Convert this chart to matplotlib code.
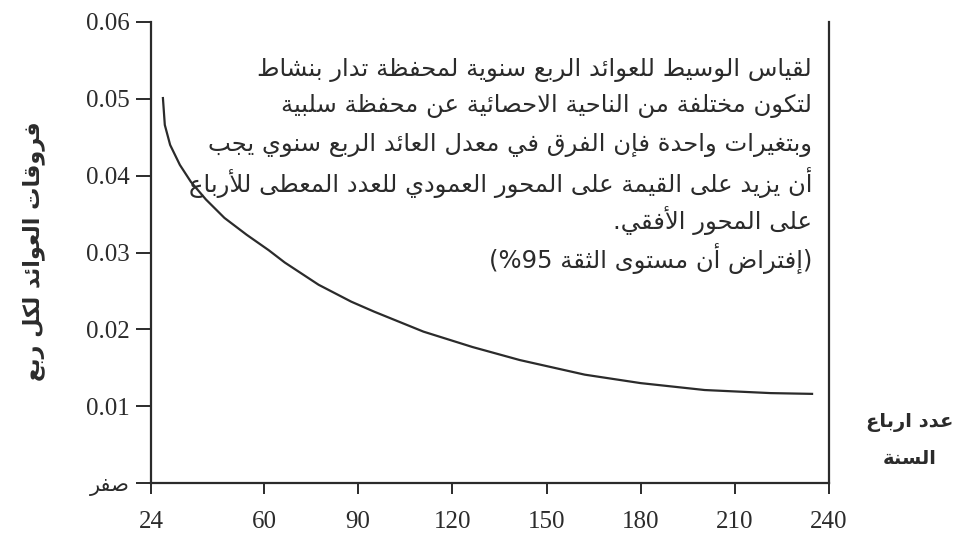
import re
import matplotlib
matplotlib.use("Agg")
import matplotlib.pyplot as plt

# ---------------------- Data ----------------------

quarters = [27.8, 28.4, 30.1, 33.2, 36.7, 41.5, 47.4, 54.5, 61.5, 66.6,
            77.4, 87.8, 95.1, 110.8, 126.4, 141.5, 162.2, 180.0, 200.4,
            221.4, 234.6]
diff_per_quarter = [0.0501, 0.0466, 0.0440, 0.0414, 0.0392, 0.0369, 0.0345,
                    0.0323, 0.0303, 0.0287, 0.0258, 0.0236, 0.0223, 0.0197,
                    0.0177, 0.0160, 0.0141, 0.0130, 0.0121, 0.0117, 0.0116]

x_ticks = [24, 60, 90, 120, 150, 180, 210, 240]
y_ticks = [0, 0.01, 0.02, 0.03, 0.04, 0.05, 0.06]
y_tick_labels = ["صفر", "0.01", "0.02", "0.03", "0.04", "0.05", "0.06"]

y_title = "فروقات العوائد لكل ربع"
x_title = ["عدد ارباع", "السنة"]
note_lines = [
    "لقياس الوسيط للعوائد الربع سنوية لمحفظة تدار بنشاط",
    "لتكون مختلفة من الناحية الاحصائية عن محفظة سلبية",
    "وبتغيرات واحدة فإن الفرق في معدل العائد الربع سنوي يجب",
    "أن يزيد على القيمة على المحور العمودي للعدد المعطى للأرباع",
    "على المحور الأفقي.",
    "(إفتراض أن مستوى الثقة 95%)",
]

# ---------------------- Arabic shaping (no bidi lib available) ----------------------

FOUR = {'ئ': 0xFE89, 'ب': 0xFE8F, 'ت': 0xFE95, 'ث': 0xFE99, 'ج': 0xFE9D,
        'ح': 0xFEA1, 'خ': 0xFEA5, 'س': 0xFEB1, 'ش': 0xFEB5, 'ص': 0xFEB9,
        'ض': 0xFEBD, 'ط': 0xFEC1, 'ظ': 0xFEC5, 'ع': 0xFEC9, 'غ': 0xFECD,
        'ف': 0xFED1, 'ق': 0xFED5, 'ك': 0xFED9, 'ل': 0xFEDD, 'م': 0xFEE1,
        'ن': 0xFEE5, 'ه': 0xFEE9, 'ي': 0xFEF1}
TWO = {'آ': 0xFE81, 'أ': 0xFE83, 'ؤ': 0xFE85, 'إ': 0xFE87, 'ا': 0xFE8D,
       'ة': 0xFE93, 'د': 0xFEA9, 'ذ': 0xFEAB, 'ر': 0xFEAD, 'ز': 0xFEAF,
       'و': 0xFEED, 'ى': 0xFEEF}
LAM_ALEF = {'آ': 0xFEF5, 'أ': 0xFEF7, 'إ': 0xFEF9, 'ا': 0xFEFB}


def ar(text):
    out = []
    i = 0
    n = len(text)
    while i < n:
        c = text[i]
        p = i > 0 and text[i - 1] in FOUR
        if c == 'ل' and i + 1 < n and text[i + 1] in LAM_ALEF:
            out.append(chr(LAM_ALEF[text[i + 1]] + (1 if p else 0)))
            i += 2
            continue
        nx = i + 1 < n and (text[i + 1] in FOUR or text[i + 1] in TWO)
        if c in FOUR:
            off = 3 if (p and nx) else 1 if p else 2 if nx else 0
            out.append(chr(FOUR[c] + off))
        elif c in TWO:
            out.append(chr(TWO[c] + (1 if p else 0)))
        elif c == 'ء':
            out.append(chr(0xFE80))
        else:
            out.append(c)
        i += 1
    s = ''.join(out)[::-1]
    s = re.sub(r'[0-9]+', lambda m: m.group()[::-1], s)
    return s.translate(str.maketrans('()', ')('))


def is_arabic(t):
    return any('\u0600' <= ch <= '\u06ff' for ch in t)


# ---------------------- Plot ----------------------

ink = "#2b2b2b"
W, H = 954, 538

fig = plt.figure(figsize=(W / 100, H / 100), dpi=100)
ax = fig.add_axes([151 / W, 55 / H, (829 - 151) / W, (483 - 22) / H])

ax.plot(quarters, diff_per_quarter, color=ink, lw=1.6)

ax.set_xlim(24, 240)
ax.set_ylim(0, 0.06)

ax.spines['top'].set_visible(False)
for side in ['left', 'right', 'bottom']:
    ax.spines[side].set_color(ink)
    ax.spines[side].set_linewidth(1.6)

ax.set_xticks(x_ticks)
ax.set_xticklabels([str(v) for v in x_ticks], fontfamily="Liberation Serif",
                   fontsize=18, color=ink)
ax.tick_params(axis='x', direction='out', length=8, width=1.4, color=ink, pad=12)

ax.set_yticks(y_ticks)
ax.set_yticklabels([ar(t) if is_arabic(t) else t for t in y_tick_labels], color=ink)
for lbl, raw in zip(ax.get_yticklabels(), y_tick_labels):
    if is_arabic(raw):
        lbl.set_fontfamily("DejaVu Sans")
        lbl.set_fontsize(15)
    else:
        lbl.set_fontfamily("Liberation Serif")
        lbl.set_fontsize(18)
ax.tick_params(axis='y', direction='out', length=11, width=1.4, color=ink, pad=4)

# y title (rotated)
fig.text(34 / W, 1 - 251 / H, ar(y_title), rotation=90, ha='center', va='center',
         fontfamily="DejaVu Sans", fontweight='bold', fontsize=16, color=ink)

# x title to the right of the frame
fig.text(910 / W, 1 - 422 / H, ar(x_title[0]), ha='center', va='center',
         fontfamily="DejaVu Sans", fontweight='bold', fontsize=14, color=ink)
fig.text(910 / W, 1 - 459 / H, ar(x_title[1]), ha='center', va='center',
         fontfamily="DejaVu Sans", fontweight='bold', fontsize=14, color=ink)

# note block
note_y = [70, 106, 145, 183, 221, 259]
for line, yy in zip(note_lines, note_y):
    fig.text(812 / W, 1 - yy / H, ar(line), ha='right', va='center',
             fontfamily="DejaVu Sans", fontsize=17.5, color=ink)

fig.savefig("out.png", dpi=100)
